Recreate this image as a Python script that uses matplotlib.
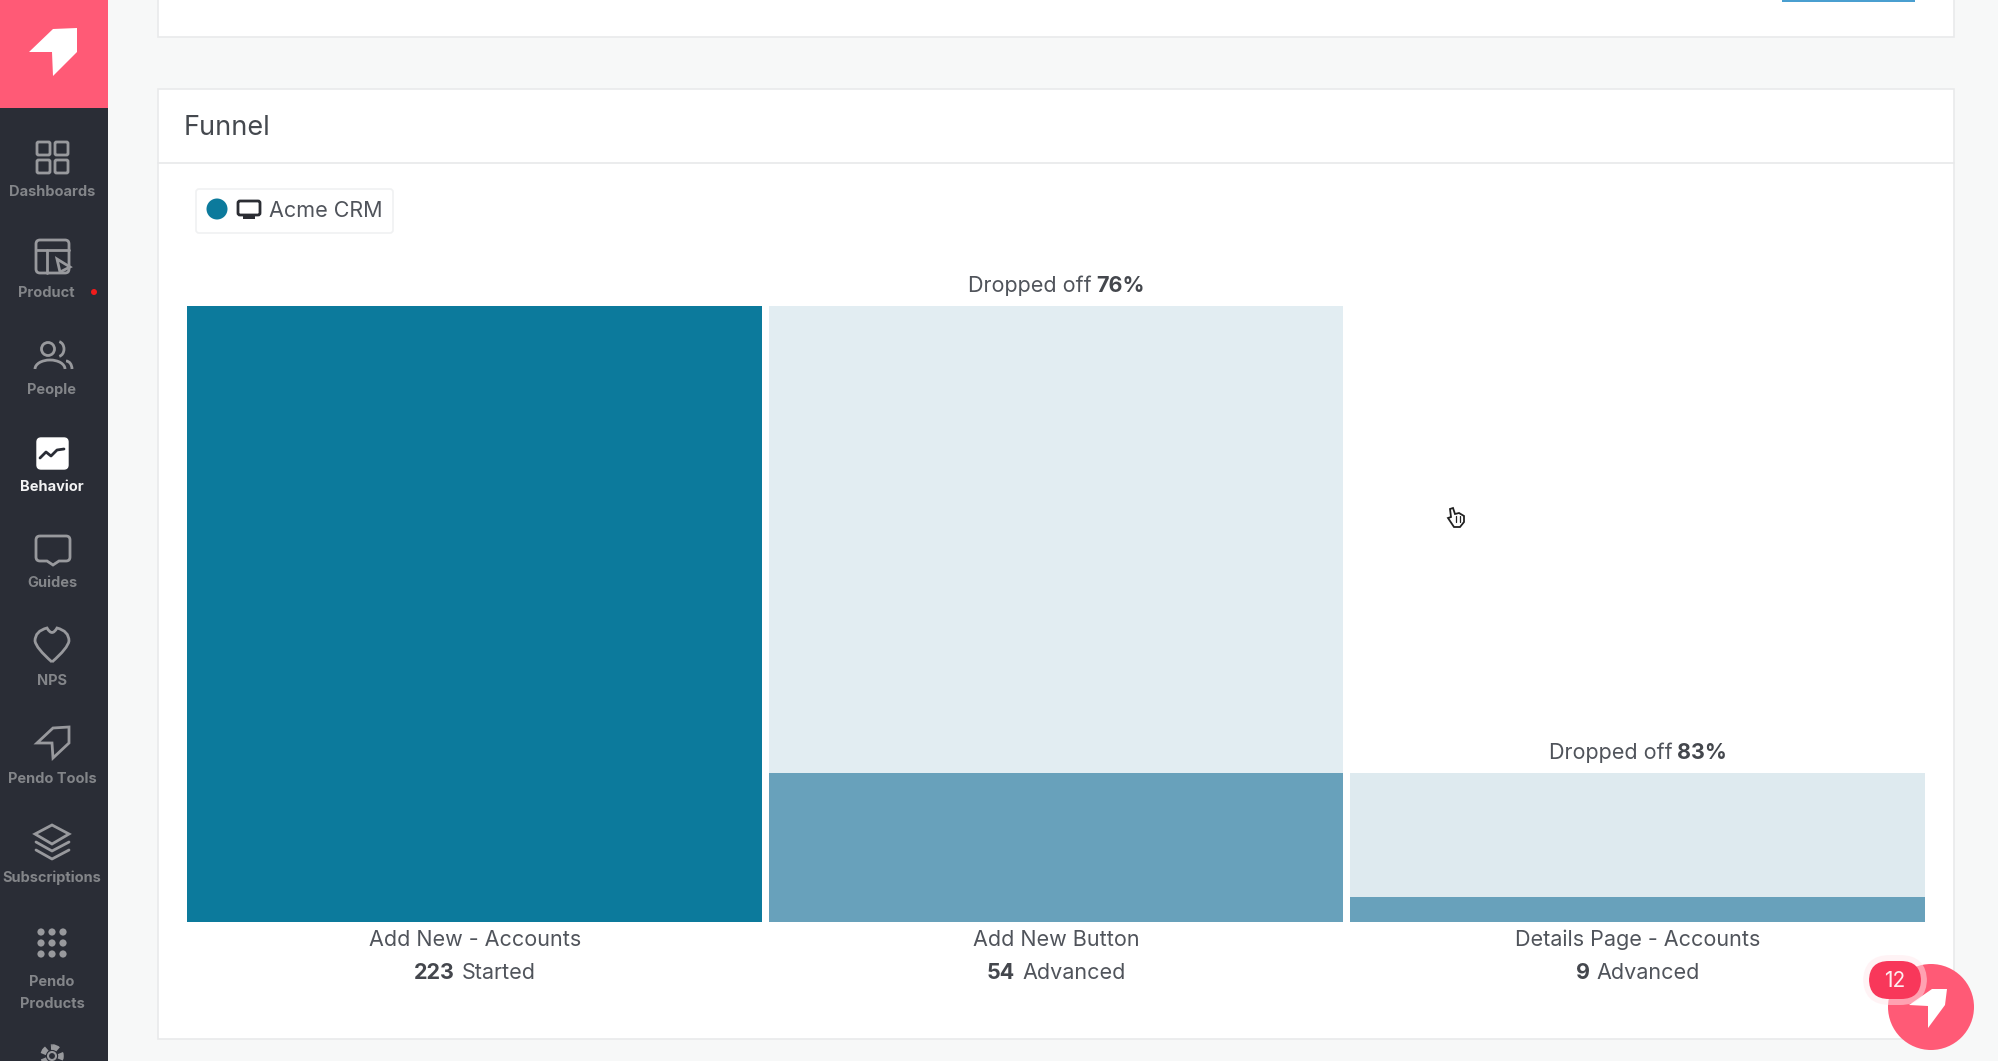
import matplotlib
matplotlib.use("Agg")
from matplotlib import pyplot as plt
import matplotlib.patches as mpatches
from matplotlib.path import Path
from matplotlib.offsetbox import AnnotationBbox, HPacker, TextArea

plt.rcParams['font.family'] = ['Inter', 'DejaVu Sans']

# funnel data
steps = ['Add New - Accounts', 'Add New Button', 'Details Page - Accounts']
counts = [223, 54, 9]
previous = [None, 223, 54]
count_words = ['Started', 'Advanced', 'Advanced']
dropped = [None, '76%', '83%']
legend_name = 'Acme CRM'

# side menu: label, y of label
nav_items = ['Dashboards', 'Product', 'People', 'Behavior', 'Guides', 'NPS',
             'Pendo Tools', 'Subscriptions']
nav_label_y = [192, 293, 390, 487, 583, 681, 779, 878]

PINK = '#ff5a76'
DARK = '#2a2d36'
ICON = '#98999d'
TEAL = '#0c7a9c'
MID = '#68a1bb'
LIGHT = ['#e2edf2', '#deeaef']
TEXT = '#50545b'

fig = plt.figure(figsize=(19.99, 10.61), dpi=100, facecolor='#f7f8f8')
ui = fig.add_axes([0, 0, 1, 1])
ui.set_xlim(0, 1999)
ui.set_ylim(1061, 0)
ui.axis('off')


def rect(x0, y0, x1, y1, **kw):
    kw.setdefault('lw', 0)
    p = mpatches.Rectangle((x0, y0), x1 - x0, y1 - y0, **kw)
    ui.add_patch(p)
    return p


def rrect(x0, y0, x1, y1, r=3, **kw):
    kw.setdefault('fc', 'none')
    kw.setdefault('ec', ICON)
    kw.setdefault('lw', 2)
    p = mpatches.FancyBboxPatch((x0 + r, y0 + r), x1 - x0 - 2 * r, y1 - y0 - 2 * r,
                                boxstyle='round,pad=%s,rounding_size=%s' % (r, r), **kw)
    ui.add_patch(p)
    return p


def line(xs, ys, color=ICON, lw=2, zorder=6):
    ui.plot(xs, ys, color=color, lw=lw, solid_capstyle='round', solid_joinstyle='round',
            zorder=zorder)


def arc(cx, cy, w, h, t1, t2, color=ICON, lw=2):
    ui.add_patch(mpatches.Arc((cx, cy), w, h, theta1=t1, theta2=t2, color=color, lw=lw, zorder=6))


def logo(pts, **kw):
    ui.add_patch(mpatches.Polygon(pts, closed=True, **kw))


# page frame
rect(0, 0, 108, 1061, fc=DARK, zorder=3)
rect(0, 0, 108, 108, fc=PINK, zorder=3)
logo([(29, 52), (53, 29), (77, 28), (77, 52), (53, 76), (52, 52)], fc='white', lw=0, zorder=4)

rect(158, -5, 1954, 37, fc='white', ec='#e9eaeb', lw=1.2)
rect(1782, 0, 1915, 2, fc='#4a9fd0')
rect(158, 89, 1954, 1039, fc='white', ec='#e9eaeb', lw=1.2)
line([158, 1954], [163, 163], color='#e8e9ea', lw=1.2, zorder=2)
ui.text(184, 128, 'Funnel', fontsize=19.5, color='#45494f', va='center')

# legend chip
rrect(196, 189, 393, 233, r=3, fc='white', ec='#f0f1f2', lw=1.2)
ui.add_patch(mpatches.Circle((217, 209), 10.5, fc=TEAL, lw=0))
rrect(238, 201, 260, 215, r=2, fc='white', ec='#2b2d33', lw=2)
rect(243, 215, 255, 219, fc='#2b2d33')
ui.text(269, 211, legend_name, fontsize=15.5, color=TEXT, va='center')

# side menu labels
for name, y in zip(nav_items, nav_label_y):
    is_on = name == 'Behavior'
    x = 46 if name == 'Product' else 52
    ui.text(x, y, name, fontsize=10.5, fontweight='bold', ha='center', va='center',
            color='#f2f2f3' if is_on else '#838589', zorder=5)
ui.text(52, 982, 'Pendo', fontsize=10.5, fontweight='bold', ha='center', va='center',
        color='#838589', zorder=5)
ui.text(52, 1004, 'Products', fontsize=10.5, fontweight='bold', ha='center', va='center',
        color='#838589', zorder=5)

# side menu icons
for x0, y0 in [(37, 142), (55, 142), (37, 160), (55, 160)]:
    rrect(x0, y0, x0 + 13, y0 + 13, r=1.5, zorder=5)

rrect(36, 240, 69, 273, r=4, zorder=5)
line([36, 69], [250, 250])
line([47, 47], [250, 273])
logo([(57, 259), (70, 267), (60, 272)], fc=DARK, ec=ICON, lw=2, zorder=6)
ui.add_patch(mpatches.Circle((94, 292), 3, fc='#f01c1c', lw=0, zorder=5))

ui.add_patch(mpatches.Circle((48, 349), 6.5, fc='none', ec=ICON, lw=2, zorder=5))
arc(58, 349, 12, 15, -80, 80)
arc(50, 369, 30, 18, 180, 360)
arc(66, 369, 12, 16, 270, 360)

rrect(37, 438, 68, 469, r=4, fc='white', ec='white', lw=1, zorder=5)
line([40, 46, 51, 57, 64], [458, 452, 456, 450, 449], color=DARK, lw=2)

guide = Path([(40, 536), (66, 536), (70, 536), (70, 540), (70, 557), (70, 561), (66, 561),
              (59, 561), (53, 565), (47, 561), (40, 561), (36, 561), (36, 557), (36, 540),
              (36, 536), (40, 536)],
             [Path.MOVETO, Path.LINETO, Path.CURVE3, Path.CURVE3, Path.LINETO, Path.CURVE3,
              Path.CURVE3, Path.LINETO, Path.LINETO, Path.LINETO, Path.LINETO, Path.CURVE3,
              Path.CURVE3, Path.LINETO, Path.CURVE3, Path.CURVE3])
ui.add_patch(mpatches.PathPatch(guide, fc='none', ec=ICON, lw=2, zorder=5))

heart = Path([(52, 662), (36, 648), (35, 641), (35, 631), (47, 628), (52, 637),
              (57, 628), (69, 631), (69, 641), (68, 648), (52, 662)],
             [Path.MOVETO, Path.CURVE3, Path.CURVE3, Path.CURVE3, Path.CURVE3, Path.CURVE3,
              Path.CURVE3, Path.CURVE3, Path.CURVE3, Path.CURVE3, Path.CURVE3])
ui.add_patch(mpatches.PathPatch(heart, fc='none', ec=ICON, lw=2, zorder=5))

logo([(37, 743), (53, 728), (69, 727), (69, 743), (53, 758), (52, 743)],
     fc='none', ec=ICON, lw=2, zorder=5)

logo([(52, 825), (69, 834), (52, 844), (35, 834)], fc='none', ec=ICON, lw=2, zorder=5)
line([36, 52, 69], [842, 851, 842])
line([36, 52, 69], [850, 859, 850])

for dy in (932, 943, 954):
    for dx in (41, 52, 63):
        ui.add_patch(mpatches.Circle((dx, dy), 3.6, fc=ICON, lw=0, zorder=5))

ui.add_patch(mpatches.Circle((52, 1056), 9, fc='none', ec=ICON, lw=4, ls=(0, (1.2, 0.8)), zorder=5))
ui.add_patch(mpatches.Circle((52, 1056), 4, fc='none', ec=ICON, lw=1.5, zorder=5))

# hand cursor
hand = [(1450, 509), (1453, 508), (1455, 514), (1459, 513), (1464, 516), (1464, 522),
        (1460, 527), (1454, 527), (1448, 518), (1451, 517)]
logo(hand, fc='white', ec='#222222', lw=1.3, zorder=5)
for hx in (1456, 1460):
    line([hx, hx], [516, 522], color='#222222', lw=0.9)

# funnel chart, in its own axes so the bars sit on real scales
ax = fig.add_axes([187.4 / 1999, 1 - 922 / 1061, 1737.6 / 1999, 616 / 1061])
ax.patch.set_alpha(0)
ax.set_xlim(-0.494, 2.494)
ax.set_ylim(0, counts[0])
ax.axis('off')

positions = range(len(steps))
for i in positions:
    if previous[i] is not None:
        ax.bar(i, previous[i], width=0.988, color=LIGHT[i - 1], lw=0)
    ax.bar(i, counts[i], width=0.988, color=TEAL if i == 0 else MID, lw=0)


def mixed_label(i, y, offset, first, second, sep=3.5):
    # two weights on one line, packed together and centred on the bar
    areas = [TextArea(t, textprops=dict(fontsize=15.5, color=c, fontweight=w))
             for t, c, w in (first, second)]
    box = HPacker(children=areas, align='baseline', pad=0, sep=sep)
    ax.add_artist(AnnotationBbox(box, (i, y), xybox=(0, offset), xycoords='data',
                                 boxcoords='offset points', frameon=False, pad=0,
                                 annotation_clip=False))


for i in positions:
    ax.annotate(steps[i], (i, 0), xytext=(0, -17.5), textcoords='offset points', ha='center',
                va='baseline', fontsize=15.5, color=TEXT, annotation_clip=False)
    mixed_label(i, 0, -37, (str(counts[i]), '#44474d', 'bold'), (count_words[i], TEXT, 'normal'),
                sep=5)
    if dropped[i] is not None:
        mixed_label(i, previous[i], 14.5, ('Dropped off', TEXT, 'normal'),
                    (dropped[i], '#44474d', 'bold'))

# help widget on top of everything
top = fig.add_axes([0, 0, 1, 1])
top.set_xlim(0, 1999)
top.set_ylim(1061, 0)
top.axis('off')
top.patch.set_alpha(0)
top.add_patch(mpatches.Circle((1931, 1007), 43, fc=PINK, lw=0))
top.add_patch(mpatches.Polygon([(1909, 1005), (1932, 989), (1947, 989), (1945, 1005),
                                (1928, 1028), (1928, 1006)], closed=True, fc='white', lw=0))
top.add_patch(mpatches.FancyBboxPatch((1875, 967), 40, 26, boxstyle='round,pad=12,rounding_size=27',
                                      fc='#ffe9ed', lw=0, alpha=0.5))
top.add_patch(mpatches.FancyBboxPatch((1875, 967), 40, 26, boxstyle='round,pad=6,rounding_size=20',
                                      fc='#f8375a', lw=0))
top.text(1895, 981, '12', fontsize=15, color='#fdeef1', ha='center', va='center')

fig.savefig('out.png', dpi=100)
